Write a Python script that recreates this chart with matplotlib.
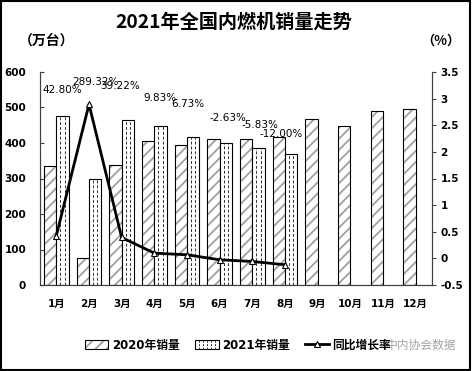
import matplotlib
matplotlib.use("Agg")
import matplotlib.pyplot as plt
import numpy as np
from matplotlib.patches import Patch, Rectangle
from matplotlib.lines import Line2D
from matplotlib.legend_handler import HandlerBase

plt.rcParams['font.family'] = ['DejaVu Sans', 'Noto Sans CJK SC']
plt.rcParams['hatch.linewidth'] = 1.3

months = ['1月', '2月', '3月', '4月', '5月', '6月', '7月', '8月', '9月', '10月', '11月', '12月']
sales_2020 = [334, 75, 337, 406, 393, 412, 410, 418, 468, 447, 489, 496]
sales_2021 = [477, 298, 466, 447, 418, 401, 387, 368]
growth = [0.4280, 2.8932, 0.3922, 0.0983, 0.0673, -0.0263, -0.0583, -0.1200]
growth_labels = ['42.80%', '289.32%', '39.22%', '9.83%', '6.73%', '-2.63%', '-5.83%', '-12.00%']
left_ticks = [0, 100, 200, 300, 400, 500, 600]
right_ticks = [-0.5, 0, 0.5, 1, 1.5, 2, 2.5, 3, 3.5]
right_tick_labels = ['-0.5', '0', '0.5', '1', '1.5', '2', '2.5', '3', '3.5']

# label placement (style): x shift in categories, y in right-axis units
lab_dx = [0.18, 0.21, -0.05, 0.18, 0.03, 0.25, 0.24, -0.12]
lab_y = [3.16, 3.31, 3.24, 3.01, 2.90, 2.64, 2.50, 2.34]

HATCH_GRAY = '#a0a0a0'
W, H = 472, 371
fig = plt.figure(figsize=(W / 100, H / 100), dpi=100)
ax = fig.add_axes([40 / W, 1 - 285 / H, 392 / W, 213 / H])
ax2 = ax.twinx()

x = np.arange(len(months))
w = 0.38
# hatched fill in gray, then black outline on top
ax.bar(x - w / 2, sales_2020, w, facecolor='white', edgecolor=HATCH_GRAY,
       linewidth=0, hatch='///')
ax.bar(x - w / 2, sales_2020, w, fill=False, edgecolor='black', linewidth=0.8)
x21 = np.arange(len(sales_2021))
b2 = ax.bar(x21 + w / 2, sales_2021, w, facecolor='white', edgecolor='black',
            linewidth=0.8)
for r in b2:
    x0, wd, h = r.get_x(), r.get_width(), r.get_height()
    ax.vlines([x0 + wd / 3, x0 + 2 * wd / 3], 0, h, colors='#303030',
              linewidth=0.7, linestyles=(0, (3, 2)))

ax.set_xlim(-0.5, len(months) - 0.5)
ax.set_ylim(0, 600)
ax.set_yticks(left_ticks)
ax.set_yticklabels([str(t) for t in left_ticks], fontsize=7.5, fontweight='bold')
ax.set_xticks(x)
ax.set_xticklabels(months, fontsize=7.5, fontweight='bold')
ax.tick_params(axis='x', length=0, pad=10)
ax.tick_params(axis='y', direction='in', length=3, pad=10, color='#404040')

ax2.plot(x21, growth, color='black', linewidth=2, marker='^', markersize=5,
         markerfacecolor='white', markeredgecolor='black', markeredgewidth=0.8)
ax2.set_ylim(-0.5, 3.5)
ax2.set_yticks(right_ticks)
ax2.set_yticklabels(right_tick_labels, fontsize=7.5, fontweight='bold')
ax2.tick_params(axis='y', direction='out', length=3, pad=3, color='#404040')

for i, (v, t) in enumerate(zip(growth, growth_labels)):
    ax2.text(i + lab_dx[i], lab_y[i], t, ha='center', va='center', fontsize=7.5)

for a in (ax, ax2):
    a.spines['top'].set_visible(False)
    for s in ('left', 'right', 'bottom'):
        a.spines[s].set_color('#404040')
        a.spines[s].set_linewidth(0.8)

fig.text(234 / W, 1 - 22 / H, '2021年全国内燃机销量走势', ha='center', va='center',
         fontsize=13.8, fontweight='bold', family=['Noto Sans CJK SC'])
fig.text(47 / W, 1 - 41 / H, '（万台）', ha='center', va='center', fontsize=10,
         fontweight='bold', family=['Noto Sans CJK SC'])
fig.text(441 / W, 1 - 41 / H, '（%）', ha='center', va='center', fontsize=9.5,
         fontweight='bold', family=['Noto Sans CJK SC'])


class HatchBarHandler(HandlerBase):
    def __init__(self, kind):
        super().__init__()
        self.kind = kind

    def create_artists(self, legend, orig_handle, xdescent, ydescent, width,
                       height, fontsize, trans):
        arts = []
        if self.kind == '2020':
            arts.append(Rectangle((-xdescent, -ydescent), width, height,
                                  facecolor='white', edgecolor=HATCH_GRAY,
                                  linewidth=0, hatch='///', transform=trans))
            arts.append(Rectangle((-xdescent, -ydescent), width, height,
                                  fill=False, edgecolor='black', linewidth=0.8,
                                  transform=trans))
        else:
            arts.append(Rectangle((-xdescent, -ydescent), width, height,
                                  facecolor='white', edgecolor='black',
                                  linewidth=0.8, transform=trans))
            for k in range(1, 6):
                xx = -xdescent + width * k / 6
                arts.append(Line2D([xx, xx], [-ydescent, -ydescent + height],
                                   color='#303030', linewidth=0.7,
                                   linestyle=(0, (2, 1.5)), transform=trans))
        return arts


h20 = Patch(facecolor='white', edgecolor='black')
h21 = Patch(facecolor='white', edgecolor='black')
hline = Line2D([0], [0], color='black', linewidth=2, marker='^', markersize=5,
               markerfacecolor='white', markeredgecolor='black', markeredgewidth=0.8)
labels = ['2020年销量', '2021年销量', '同比增长率']
fig.legend([h20, h21, hline], labels, loc='center',
           bbox_to_anchor=(238 / W, 1 - 345 / H),
           ncol=3, frameon=False, handlelength=2.0, handletextpad=0.3,
           columnspacing=1.3,
           handler_map={h20: HatchBarHandler('2020'), h21: HatchBarHandler('2021')},
           prop={'size': 8.5, 'weight': 'bold',
                 'family': ['DejaVu Sans', 'Noto Sans CJK SC']})

fig.text(421 / W, 1 - 345 / H, '中内协会数据', ha='center', va='center', fontsize=8.5,
         color='#9a9a9a', alpha=0.9, family=['Noto Sans CJK SC'])

fig.patches.append(Rectangle((0.002, 0.004), 0.994, 0.993, transform=fig.transFigure,
                             fill=False, edgecolor='black', linewidth=1.5))

fig.savefig('out.png', dpi=100)
